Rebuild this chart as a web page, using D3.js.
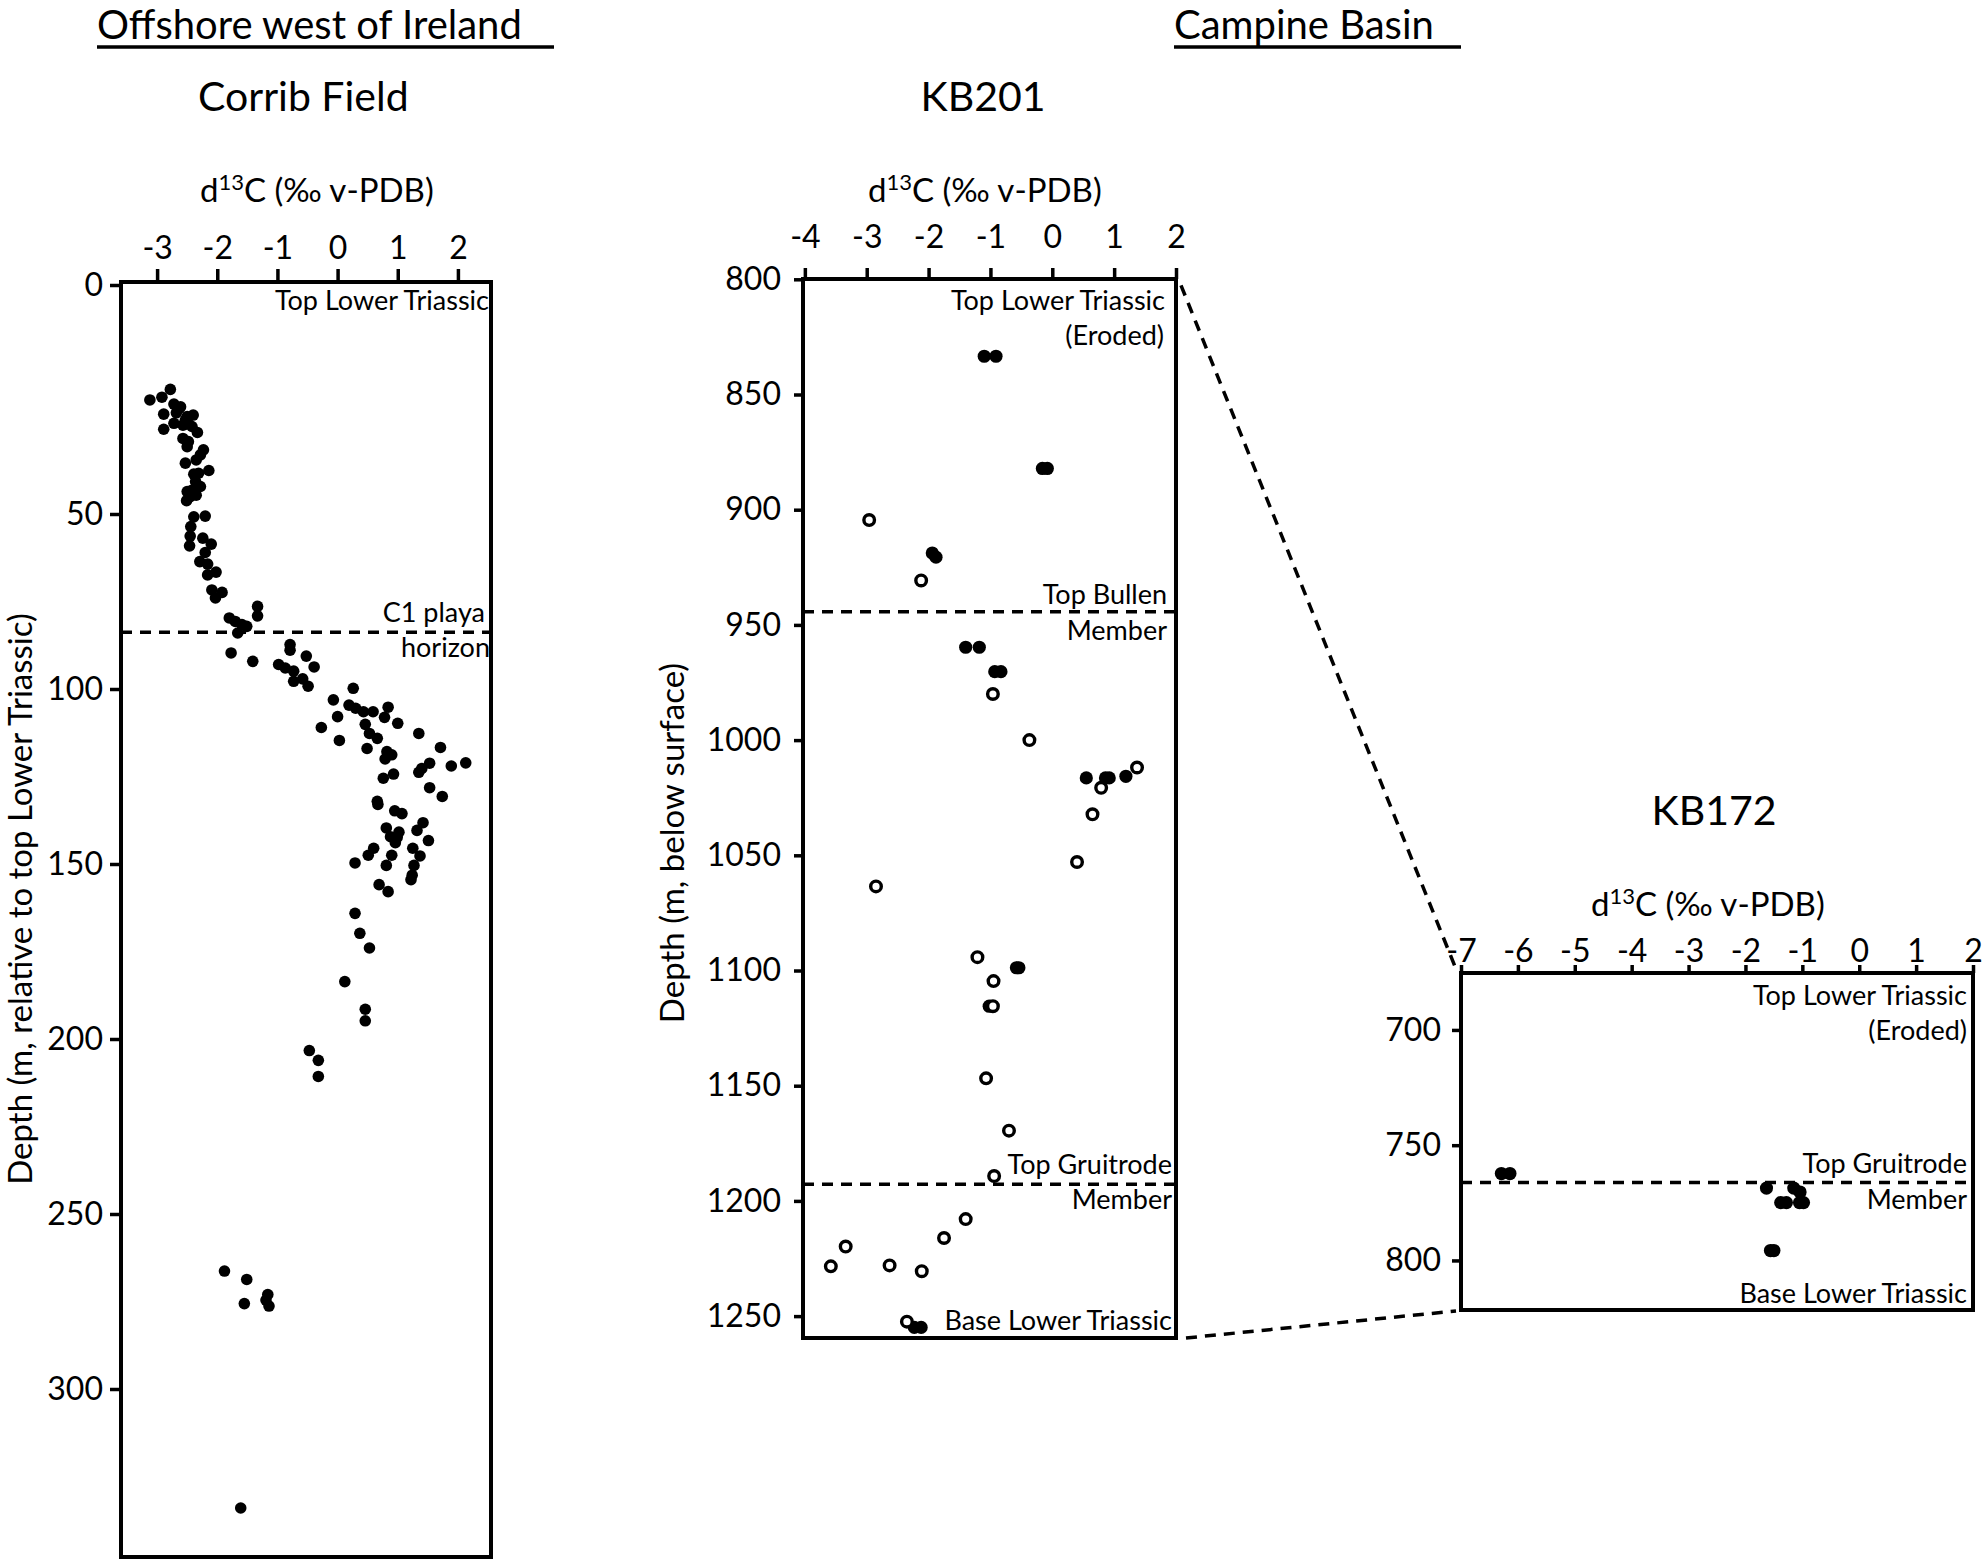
<!DOCTYPE html>
<html>
<head>
<meta charset="utf-8">
<script src="https://cdn.jsdelivr.net/npm/d3@7"></script>
<style>
  html, body { margin: 0; padding: 0; background: #fff; }
  svg { display: block; font-family: Lato, "Open Sans", sans-serif; }
  .tick text { font-family: Lato, "Open Sans", sans-serif; }
</style>
</head>
<body>
<svg id="chart" width="1983" height="1560"></svg>
<script>
// Corrib Field: d13C (per mil) and depth below top Lower Triassic (m)
const corribD13C = [
  -3.12, -2.78, -2.92, -2.89, -2.72, -2.61, -2.68, -2.40, -2.50, -2.89, -2.72, -2.57, -2.48,
  -2.33, -2.57, -2.48, -2.23, -2.53, -2.35, -2.14, -2.39, -2.36, -2.50, -2.35, -2.51,
  -2.64, -2.53, -2.42, -2.50, -2.28, -2.31, -2.28, -2.42, -2.45,
  -2.39, -2.20, -2.44, -2.45, -2.24, -2.46, -2.10, -2.20, -2.29, -2.16, -2.02, -2.16, -2.09,
  -1.92, -2.03, -1.33, -1.33, -1.80, -1.70, -1.59, -1.51, -1.66, -1.77, -1.41, -0.79, -0.79,
  -0.52, -0.39, -0.98, -0.87, -0.73, -0.73, -0.58, -0.49, 0.26, -0.07, 0.00, -0.27, 0.03,
  0.19, 0.30, 0.43, 0.59, 0.84, 0.78, 1.00, 0.46, 0.53, 0.66, 1.35, 0.49, 1.71, 0.82,
  0.90, 0.79, 1.53, 1.40, 1.35, 1.89, 2.13, 0.93, 0.76, 1.53, 1.74, 0.66, 0.67, 0.95, 1.07,
  1.42, 1.32, 0.81, 0.88, 1.02, 0.99, 0.96, 1.51, 0.60, 0.51, 0.90, 1.25, 1.37, 0.29, 0.81,
  1.27, 1.24, 1.22, 0.69, 0.84, 0.29, 0.37, 0.53, 0.12, 0.46, 0.46, -0.47, -0.32, -0.32,
  -1.88, -1.51, -1.55, -1.16, -1.19, -1.14, -1.61
];
const corribDepth = [
  25.1, 22.8, 24.5, 28.2, 26.0, 26.6, 27.9, 28.4, 28.7, 31.5, 30.2, 30.6, 30.3,
  32.2, 33.5, 34.2, 36.0, 38.9, 38.2, 40.5, 41.3, 42.9, 45.1, 45.9, 47.1,
  27.0, 29.5, 30.9, 35.3, 37.1, 41.1, 44.0, 44.8, 46.2,
  50.8, 50.6, 53.6, 56.3, 56.9, 59.1, 58.6, 61.0, 63.6, 64.3, 66.6, 67.4, 71.7,
  72.4, 74.0, 76.4, 79.1, 79.7, 80.7, 81.6, 82.1, 84.0, 89.7, 92.1, 87.3, 88.9,
  90.6, 93.7, 93.0, 94.0, 94.9, 97.8, 97.1, 99.2, 99.8, 103.1, 107.9, 111.0, 114.7,
  104.6, 105.5, 106.5, 106.5, 105.2, 108.1, 109.8, 110.1, 112.7, 114.1, 112.7, 117.0, 116.7, 117.9,
  118.8, 120.0, 121.2, 122.7, 123.8, 122.0, 121.1, 124.3, 125.5, 128.2, 130.7, 132.1, 133.0, 134.8, 135.6,
  138.2, 140.4, 139.7, 142.2, 140.9, 142.4, 143.9, 143.3, 145.5, 147.5, 147.5, 145.5, 147.7, 149.7, 150.4,
  150.4, 153.2, 154.5, 155.9, 157.9, 164.1, 169.8, 174.0, 183.6, 191.5, 194.8, 203.3, 206.1, 210.7,
  266.3, 268.7, 275.6, 273.0, 274.6, 276.3, 334.0
];

// KB201 well: filled and open symbols
const kb201FilledD13C = [-1.10, -0.91, -0.16, -0.08, -1.94, -1.88, -1.40, -1.18, -0.93, -0.83,
  0.55, 0.86, 0.92, 1.19, -0.58, -0.54, -1.02, -2.23, -2.12];
const kb201FilledDepth = [833.4, 833.4, 882.1, 882.1, 918.8, 920.6, 959.7, 959.7, 970.3, 970.3,
  1016.4, 1016.4, 1016.4, 1015.7, 1098.8, 1098.8, 1115.5, 1254.9, 1254.9];
const kb201OpenD13C = [-2.96, -2.12, -0.96, -0.37, 0.79, 1.37, 0.65, 0.40, -2.85, -1.21, -0.95,
  -0.96, -1.07, -0.70, -0.94, -1.40, -1.75, -3.34, -3.58, -2.63, -2.11, -2.35];
const kb201OpenDepth = [904.5, 930.7, 980.0, 1000.0, 1020.7, 1011.9, 1032.2, 1052.9, 1063.5, 1094.2, 1104.6,
  1115.5, 1146.8, 1169.5, 1189.2, 1207.9, 1216.1, 1219.8, 1228.4, 1228.0, 1230.5, 1252.4];

// KB172 well
const kb172D13C = [-6.29, -6.14, -1.63, -1.15, -1.04, -1.38, -1.28, -1.05, -0.98, -1.56, -1.50];
const kb172Depth = [762.3, 762.3, 768.6, 768.6, 770.3, 774.9, 774.9, 774.9, 774.9, 795.7, 795.7];

// ticks
const corribXTicks = [-3, -2, -1, 0, 1, 2];
const corribYTicks = [0, 50, 100, 150, 200, 250, 300];
const kb201XTicks = [-4, -3, -2, -1, 0, 1, 2];
const kb201YTicks = [800, 850, 900, 950, 1000, 1050, 1100, 1150, 1200, 1250];
const kb172XTicks = [-7, -6, -5, -4, -3, -2, -1, 0, 1, 2];
const kb172YTicks = [700, 750, 800];

// horizons (depth of dashed lines)
const corribHorizons = [83.8];
const kb201Horizons = [944.3, 1192.8];
const kb172Horizons = [766.2];

const svg = d3.select("#chart");
const FONT = "Lato, 'Open Sans', sans-serif";

function zip(a, b) { return a.map((v, i) => ({ x: v, d: b[i] })); }

// generic panel
function panel(o) {
  const g = svg.append("g");
  const x = d3.scaleLinear().domain(o.xDomain).range([o.L, o.R]);
  const y = d3.scaleLinear().domain(o.yDomain).range(o.yRange);

  const xa = g.append("g").attr("transform", `translate(0,${o.T})`)
    .call(d3.axisTop(x).tickValues(o.xTicks).tickSize(o.xTickLen).tickPadding(o.xPad)
      .tickFormat(d3.format("d")));
  const ya = g.append("g").attr("transform", `translate(${o.L},0)`)
    .call(d3.axisLeft(y).tickValues(o.yTicks).tickSize(o.yTickLen).tickPadding(o.yPad)
      .tickFormat(d3.format("d")));
  [xa, ya].forEach(a => {
    a.select(".domain").remove();
    a.selectAll(".tick line").attr("stroke", "#000").attr("stroke-width", 3.5);
    a.selectAll(".tick text").attr("fill", "#000").style("font-size", "32px").style("font-family", FONT);
  });
  xa.selectAll(".tick text").text(d => d < 0 ? "-" + Math.abs(d) : d);

  // horizon dashed lines
  g.selectAll("line.hz").data(o.horizons).enter().append("line")
    .attr("x1", o.L).attr("x2", o.R)
    .attr("y1", d => y(d)).attr("y2", d => y(d))
    .attr("stroke", "#000").attr("stroke-width", 3.5).attr("stroke-dasharray", "11,8");

  // frame
  g.append("rect").attr("x", o.L).attr("y", o.T)
    .attr("width", o.R - o.L).attr("height", o.B - o.T)
    .attr("fill", "none").attr("stroke", "#000").attr("stroke-width", 4);

  return { g, x, y };
}

function label(g, txt, x, y, size, anchor) {
  return g.append("text").attr("x", x).attr("y", y).attr("text-anchor", anchor || "start")
    .style("font-family", FONT).style("font-size", size + "px").attr("fill", "#000").text(txt);
}

function d13cTitle(g, x, y) {
  const t = g.append("text").attr("x", x).attr("y", y)
    .style("font-family", FONT).style("font-size", "33px").attr("fill", "#000");
  t.append("tspan").text("d");
  t.append("tspan").attr("dy", -12).style("font-size", "22px").text("13");
  t.append("tspan").attr("dy", 12).text("C (\u2030 v-PDB)");
}

function yTitle(g, txt, x, cy) {
  g.append("text").attr("transform", `translate(${x},${cy}) rotate(-90)`)
    .attr("text-anchor", "middle").style("font-family", FONT).style("font-size", "33px")
    .attr("fill", "#000").text(txt);
}

// ---------- Corrib Field ----------
const corrib = panel({
  L: 121, R: 491, T: 282, B: 1557,
  xDomain: [-3.6, 2.55],
  yDomain: [0, 50, 348], yRange: [285, 514, 1557],
  xTicks: corribXTicks, yTicks: corribYTicks,
  xTickLen: 13, xPad: 10, yTickLen: 11, yPad: 7,
  horizons: corribHorizons
});
corrib.g.selectAll("circle.pt").data(zip(corribD13C, corribDepth)).enter().append("circle")
  .attr("cx", d => corrib.x(d.x)).attr("cy", d => corrib.y(d.d)).attr("r", 5.8).attr("fill", "#000");

label(corrib.g, "Top Lower Triassic", 489, 310, 27, "end");
label(corrib.g, "C1 playa", 485, corrib.y(corribHorizons[0]) - 10, 27, "end");
label(corrib.g, "horizon", 490, corrib.y(corribHorizons[0]) + 25, 27, "end");
d13cTitle(corrib.g, 200, 202);
label(corrib.g, "Corrib Field", 198, 111, 41);
yTitle(corrib.g, "Depth (m, relative to top Lower Triassic)", 32, 899);

// ---------- KB201 ----------
const kb201 = panel({
  L: 803, R: 1176, T: 279, B: 1338,
  xDomain: [-4.03, 2],
  yDomain: [800, 1259.5], yRange: [279.3, 1338],
  xTicks: kb201XTicks, yTicks: kb201YTicks,
  xTickLen: 11, xPad: 20, yTickLen: 9, yPad: 13,
  horizons: kb201Horizons
});
kb201.g.selectAll("circle.f").data(zip(kb201FilledD13C, kb201FilledDepth)).enter().append("circle")
  .attr("cx", d => kb201.x(d.x)).attr("cy", d => kb201.y(d.d)).attr("r", 6.6).attr("fill", "#000");
kb201.g.selectAll("circle.o").data(zip(kb201OpenD13C, kb201OpenDepth)).enter().append("circle")
  .attr("cx", d => kb201.x(d.x)).attr("cy", d => kb201.y(d.d)).attr("r", 5.3)
  .attr("fill", "#fff").attr("stroke", "#000").attr("stroke-width", 3.4);

label(kb201.g, "Top Lower Triassic", 1165, 310, 27, "end");
label(kb201.g, "(Eroded)", 1164, 345, 27, "end");
label(kb201.g, "Top Bullen", 1167, kb201.y(kb201Horizons[0]) - 8, 27, "end");
label(kb201.g, "Member", 1167, kb201.y(kb201Horizons[0]) + 28, 27, "end");
label(kb201.g, "Top Gruitrode", 1172, kb201.y(kb201Horizons[1]) - 10, 27, "end");
label(kb201.g, "Member", 1172, kb201.y(kb201Horizons[1]) + 25, 27, "end");
label(kb201.g, "Base Lower Triassic", 1172, 1330, 27, "end");
d13cTitle(kb201.g, 868, 202);
label(kb201.g, "KB201", 983, 111, 41, "middle");
yTitle(kb201.g, "Depth (m, below surface)", 684, 843);

// ---------- KB172 ----------
const kb172 = panel({
  L: 1461, R: 1973, T: 973, B: 1310,
  xDomain: [-7, 2],
  yDomain: [675.3, 821.5], yRange: [973, 1310],
  xTicks: kb172XTicks, yTicks: kb172YTicks,
  xTickLen: 8, xPad: 3, yTickLen: 9, yPad: 11,
  horizons: kb172Horizons
});
kb172.g.selectAll("circle.f").data(zip(kb172D13C, kb172Depth)).enter().append("circle")
  .attr("cx", d => kb172.x(d.x)).attr("cy", d => kb172.y(d.d)).attr("r", 6.6).attr("fill", "#000");

label(kb172.g, "Top Lower Triassic", 1967, 1005, 27, "end");
label(kb172.g, "(Eroded)", 1967, 1040, 27, "end");
label(kb172.g, "Top Gruitrode", 1967, kb172.y(kb172Horizons[0]) - 10, 27, "end");
label(kb172.g, "Member", 1967, kb172.y(kb172Horizons[0]) + 26, 27, "end");
label(kb172.g, "Base Lower Triassic", 1967, 1303, 27, "end");
d13cTitle(kb172.g, 1591, 916);
label(kb172.g, "KB172", 1714, 825, 41, "middle");

// ---------- headings ----------
label(svg, "Offshore west of Ireland", 97, 39, 40);
svg.append("line").attr("x1", 97).attr("x2", 554).attr("y1", 47).attr("y2", 47)
  .attr("stroke", "#000").attr("stroke-width", 3.5);
label(svg, "Campine Basin", 1174, 39, 40);
svg.append("line").attr("x1", 1174).attr("x2", 1461).attr("y1", 47).attr("y2", 47)
  .attr("stroke", "#000").attr("stroke-width", 3.5);

// ---------- connectors between KB201 and KB172 ----------
const conn = [
  [[kb201.x(2) + 5, kb201.y(800) + 6], [kb172.x(-7) - 5, kb172.y(675.3) - 4]],
  [[kb201.x(2) + 10, kb201.y(1259.5)], [kb172.x(-7) - 5, kb172.y(821.5) + 1]]
];
svg.selectAll("line.conn").data(conn).enter().append("line")
  .attr("x1", d => d[0][0]).attr("y1", d => d[0][1])
  .attr("x2", d => d[1][0]).attr("y2", d => d[1][1])
  .attr("stroke", "#000").attr("stroke-width", 3.5).attr("stroke-dasharray", "11,8");
</script>
</body>
</html>
